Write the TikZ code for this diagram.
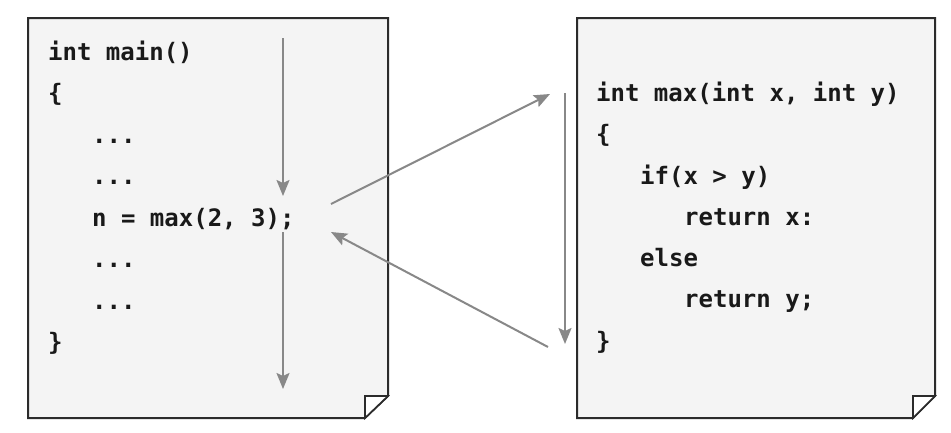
\documentclass[tikz,border=0pt]{standalone}
\usepackage{fontspec}
\setmonofont{DejaVu Sans Mono}
\usetikzlibrary{arrows.meta}
\definecolor{pagefill}{HTML}{F4F4F4}
\definecolor{pageline}{HTML}{2B2B2B}
\definecolor{flowgray}{HTML}{888888}
\tikzset{
  page/.style={draw=pageline, fill=pagefill, line width=2pt, line join=miter},
  fold/.style={draw=pageline, fill=white, line width=1.6pt},
  code/.style={anchor=base west, inner sep=0pt, font=\ttfamily\bfseries\fontsize{24}{24}\selectfont, text=black!90},
  flow/.style={draw=flowgray, line width=2pt, -{Stealth[length=16pt,width=13pt,inset=3pt]}}
}
\begin{document}
\begin{tikzpicture}[x=1pt,y=-1pt]
\useasboundingbox (0,0) rectangle (951,432);
\fill[white] (0,0) rectangle (951,432);
% left page
\draw[page] (28,18) -- (388,18) -- (388,396) -- (365,418) -- (28,418) -- cycle;
\draw[fold] (365,418) -- (365,396) -- (388,396) -- cycle;
% right page
\draw[page] (577,18) -- (935,18) -- (935,396) -- (913,418) -- (577,418) -- cycle;
\draw[fold] (913,418) -- (913,396) -- (935,396) -- cycle;
% left code
\node[code] (l1) at (48,60) {int main()};
\node[code] (l2) at (48,101.5) {\{};
\node[code] (l3) at (92,143) {...};
\node[code] (l4) at (92,184.5) {...};
\node[code] (l5) at (92,226) {n = max(2, 3);};
\node[code] (l6) at (92,267.5) {...};
\node[code] (l7) at (92,309) {...};
\node[code] (l8) at (48,350.5) {\}};
% right code
\node[code] (r1) at (596,101) {int max(int x, int y)};
\node[code] (r2) at (596,142.5) {\{};
\node[code] (r3) at (640,184) {if(x > y)};
\node[code] (r4) at (684,225) {return x:};
\node[code] (r5) at (640,266) {else};
\node[code] (r6) at (684,307) {return y;};
\node[code] (r7) at (596,349) {\}};
% flow coordinates
\coordinate (a1) at (283,38);
\coordinate (a2) at (283,196);
\coordinate (b1) at (283,232);
\coordinate (b2) at (283,389);
\coordinate (c1) at (331,204);
\coordinate (c2) at (550,94);
\coordinate (d1) at (565,93);
\coordinate (d2) at (565,344);
\coordinate (e1) at (548,347);
\coordinate (e2) at (331,232);
\draw[flow] (a1) -- (a2);
\draw[flow] (b1) -- (b2);
\draw[flow] (c1) -- (c2);
\draw[flow] (d1) -- (d2);
\draw[flow] (e1) -- (e2);
\end{tikzpicture}
\end{document}
